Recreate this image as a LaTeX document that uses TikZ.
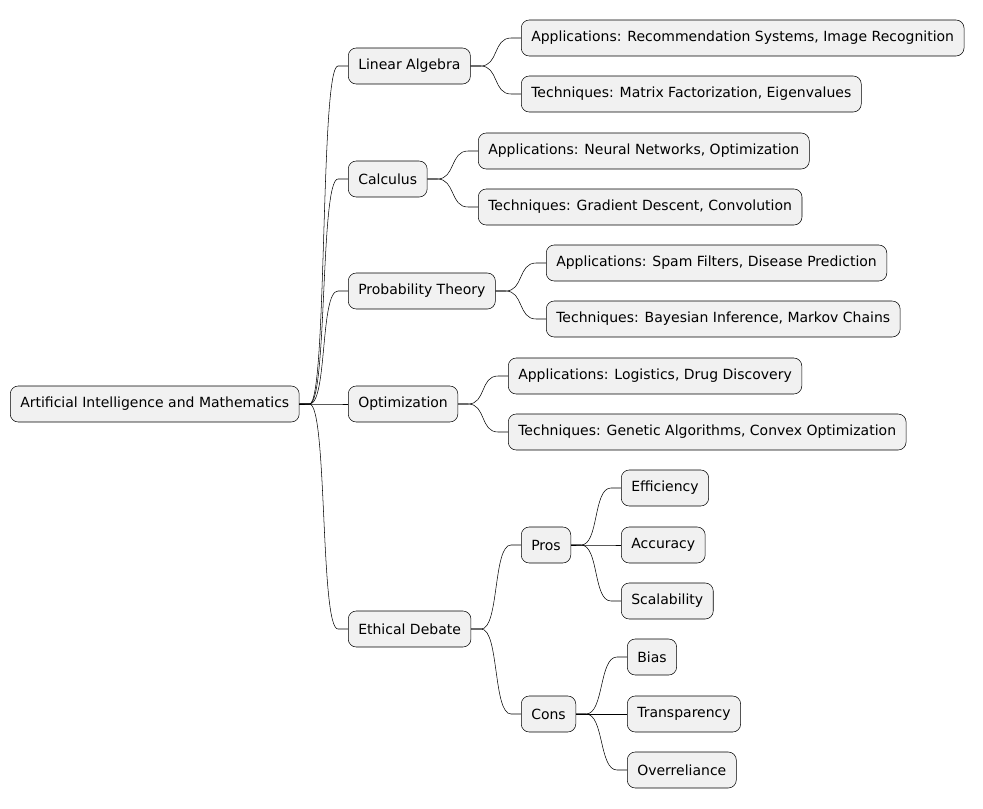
\documentclass[tikz,border=0pt]{standalone}
\usepackage{fontspec}
\setmainfont{DejaVu Sans}
\usetikzlibrary{calc}
\definecolor{boxfill}{HTML}{F1F1F1}

\begin{document}
\begin{tikzpicture}[
        x=0.75pt, y=-0.75pt,
        topic/.style={rectangle, draw, rounded corners=6pt, fill=boxfill, anchor=west,
                      minimum height=27pt, inner xsep=7.5pt, font=\fontsize{10.5}{12}\selectfont},
        edge/.style={draw, thin}
        ]
        \useasboundingbox (0,0) rectangle (983,808);

        % Nodes
        \node (root) [topic] at (10,404) {Artificial Intelligence and Mathematics};
        \node (linalg) [topic] at (348,66) {Linear Algebra};
        \node (calc) [topic] at (348,179) {Calculus};
        \node (prob) [topic] at (348,291) {Probability Theory};
        \node (optim) [topic] at (348,404) {Optimization};
        \node (ethics) [topic] at (348,629) {Ethical Debate};

        \node (linalgA) [topic] at (521,38) {Applications: Recommendation Systems, Image Recognition};
        \node (linalgT) [topic] at (521,94) {Techniques: Matrix Factorization, Eigenvalues};
        \node (calcA) [topic] at (478,151) {Applications: Neural Networks, Optimization};
        \node (calcT) [topic] at (478,207) {Techniques: Gradient Descent, Convolution};
        \node (probA) [topic] at (546,263) {Applications: Spam Filters, Disease Prediction};
        \node (probT) [topic] at (546,319) {Techniques: Bayesian Inference, Markov Chains};
        \node (optimA) [topic] at (508,376) {Applications: Logistics, Drug Discovery};
        \node (optimT) [topic] at (508,432) {Techniques: Genetic Algorithms, Convex Optimization};

        \node (pros) [topic] at (521,545) {Pros};
        \node (cons) [topic] at (521,714) {Cons};
        \node (eff) [topic] at (621,488) {Efficiency};
        \node (acc) [topic] at (621,545) {Accuracy};
        \node (scal) [topic] at (621,601) {Scalability};
        \node (bias) [topic] at (627,657) {Bias};
        \node (transp) [topic] at (627,714) {Transparency};
        \node (overr) [topic] at (627,770) {Overreliance};

        % Connectors
        \foreach \p/\c in {root/linalg, root/calc, root/prob, root/optim, root/ethics,
                           linalg/linalgA, linalg/linalgT, calc/calcA, calc/calcT,
                           prob/probA, prob/probT, optim/optimA, optim/optimT,
                           ethics/pros, ethics/cons, pros/eff, pros/acc, pros/scal,
                           cons/bias, cons/transp, cons/overr}
            \draw [edge] (\p.east) -- ++(10,0)
                .. controls +(18,0) and ($(\c.west)+(-28,0)$) .. ($(\c.west)+(-10,0)$)
                -- (\c.west);

    \end{tikzpicture}
\end{document}
